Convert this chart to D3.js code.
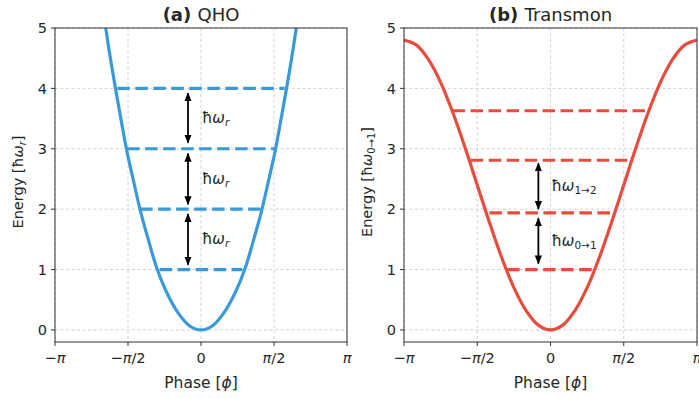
<!DOCTYPE html>
<html>
<head>
<meta charset="utf-8">
<script src="https://cdn.jsdelivr.net/npm/d3@7"></script>
<style>
  body { margin: 0; background: #fff; }
  text { font-family: "DejaVu Sans", sans-serif; fill: #262626; }
</style>
</head>
<body>
<div class="canvas"></div>
<script>
// --- data ---
const xTicks = [-Math.PI, -Math.PI / 2, 0, Math.PI / 2, Math.PI];
const xTickLabels = [['−', 'π', ''], ['−', 'π', '/2'], ['', '', '0'], ['', 'π', '/2'], ['', 'π', '']];
const yTicks = [0, 1, 2, 3, 4, 5];

// QHO potential (phase, energy)
const qhoPhase  = [-2.05, -1.95, -1.84, -1.72, -1.6, -1.45, -1.3, -1.15, -0.95, -0.75, -0.5, -0.25, 0, 0.25, 0.5, 0.75, 0.95, 1.15, 1.3, 1.45, 1.6, 1.72, 1.84, 1.95, 2.05];
const qhoEnergy = [5.0, 4.5, 4.0, 3.48, 2.98, 2.46, 1.96, 1.54, 1.02, 0.64, 0.29, 0.07, 0, 0.07, 0.29, 0.64, 1.02, 1.54, 1.96, 2.46, 2.98, 3.48, 4.0, 4.5, 5.0];
const qhoLevels = [1, 2, 3, 4];
const qhoHalfWidth = [0.89, 1.31, 1.59, 1.8];
const qhoArrows = [[1.08, 1.92], [2.08, 2.92], [3.1, 3.92]];

// transmon potential (phase, energy)
const trPhase  = d3.range(-12, 13).map(i => i * Math.PI / 12);
const trEnergy = [4.8, 4.72, 4.48, 4.1, 3.6, 3.02, 2.4, 1.78, 1.2, 0.7, 0.32, 0.08, 0, 0.08, 0.32, 0.7, 1.2, 1.78, 2.4, 3.02, 3.6, 4.1, 4.48, 4.72, 4.8];
const trLevels = [1.0, 1.94, 2.81, 3.63];
const trHalfWidth = [0.93, 1.31, 1.71, 2.1];
const trArrows = [[1.1, 1.85], [2.0, 2.76]];

const width = 699, height = 398;
const svg = d3.select('.canvas')
    .append('svg')
    .attr('width', width)
    .attr('height', height);

// arrowhead markers
const defs = svg.append('defs');
defs.append('marker')
    .attr('id', 'head')
    .attr('viewBox', '0 0 10 10')
    .attr('refX', 9).attr('refY', 5)
    .attr('markerWidth', 9).attr('markerHeight', 9)
    .attr('markerUnits', 'userSpaceOnUse')
    .attr('orient', 'auto-start-reverse')
  .append('path')
    .attr('d', 'M0,1 L10,5 L0,9 z')
    .attr('fill', '#000');

const y = d3.scaleLinear().domain([-0.2, 5]).range([342, 28]);

function panel(opt) {
    const x = d3.scaleLinear().domain([-Math.PI, Math.PI]).range([opt.left, opt.right]);
    const g = svg.append('g');

    defs.append('clipPath').attr('id', 'clip-' + opt.id)
      .append('rect')
        .attr('x', opt.left).attr('y', y(5))
        .attr('width', opt.right - opt.left).attr('height', y(-0.2) - y(5));

    // grid
    g.append('g').selectAll('line')
      .data(yTicks).join('line')
        .attr('x1', opt.left).attr('x2', opt.right)
        .attr('y1', d => y(d)).attr('y2', d => y(d))
        .attr('stroke', '#b0b0b0').attr('stroke-width', 0.8)
        .attr('stroke-dasharray', '3,2.5').attr('opacity', 0.7);
    g.append('g').selectAll('line')
      .data(xTicks).join('line')
        .attr('x1', d => x(d)).attr('x2', d => x(d))
        .attr('y1', y(5)).attr('y2', y(-0.2))
        .attr('stroke', '#b0b0b0').attr('stroke-width', 0.8)
        .attr('stroke-dasharray', '3,2.5').attr('opacity', 0.7);

    // potential
    const line = d3.line()
        .x((d, i) => x(opt.phase[i]))
        .y(d => y(d))
        .curve(d3.curveCatmullRom);
    g.append('path')
        .datum(opt.energy)
        .attr('clip-path', `url(#clip-${opt.id})`)
        .attr('fill', 'none')
        .attr('stroke', opt.color)
        .attr('stroke-width', 3.2)
        .attr('d', line);

    // levels
    g.append('g').selectAll('line')
      .data(opt.levels).join('line')
        .attr('x1', (d, i) => x(-opt.half[i]))
        .attr('x2', (d, i) => x(opt.half[i]))
        .attr('y1', d => y(d)).attr('y2', d => y(d))
        .attr('stroke', opt.color)
        .attr('stroke-width', 3.2)
        .attr('stroke-dasharray', '12.5,5.5');

    // arrows + labels
    g.append('g').selectAll('line')
      .data(opt.arrows).join('line')
        .attr('x1', x(opt.arrowX)).attr('x2', x(opt.arrowX))
        .attr('y1', d => y(d[0])).attr('y2', d => y(d[1]))
        .attr('stroke', '#000').attr('stroke-width', 1.8)
        .attr('marker-start', 'url(#head)')
        .attr('marker-end', 'url(#head)');

    const lab = g.append('g').selectAll('text')
      .data(opt.arrows).join('text')
        .attr('x', x(opt.labelX))
        .attr('y', d => y((d[0] + d[1]) / 2) + 5)
        .attr('font-size', 15);
    lab.append('tspan').text('ħ');
    lab.append('tspan').attr('font-style', 'italic').text('ω');
    lab.append('tspan')
        .attr('font-size', 10.5).attr('dy', 3)
        .attr('font-style', (d, i) => opt.sub[i] === 'r' ? 'italic' : 'normal')
        .text((d, i) => opt.sub[i]);

    // spines
    g.append('rect')
        .attr('x', opt.left).attr('y', y(5))
        .attr('width', opt.right - opt.left).attr('height', y(-0.2) - y(5))
        .attr('fill', 'none').attr('stroke', '#333').attr('stroke-width', 1);

    // x ticks
    const xt = g.append('g').selectAll('g')
      .data(xTicks).join('g')
        .attr('transform', d => `translate(${x(d)},${y(-0.2)})`);
    xt.append('line').attr('y2', 4).attr('stroke', '#333');
    const xl = xt.append('text')
        .attr('y', 21).attr('text-anchor', 'middle').attr('font-size', 14.5);
    xl.append('tspan').text((d, i) => xTickLabels[i][0]);
    xl.append('tspan').attr('font-style', 'italic').text((d, i) => xTickLabels[i][1]);
    xl.append('tspan').text((d, i) => xTickLabels[i][2]);

    // y ticks
    const yt = g.append('g').selectAll('g')
      .data(yTicks).join('g')
        .attr('transform', d => `translate(${opt.left},${y(d)})`);
    yt.append('line').attr('x2', -4).attr('stroke', '#333');
    yt.append('text')
        .attr('x', -8).attr('dy', '0.36em')
        .attr('text-anchor', 'end').attr('font-size', 14.5)
        .text(d => d);

    // x label
    const xlab = g.append('text')
        .attr('x', (opt.left + opt.right) / 2).attr('y', 388)
        .attr('text-anchor', 'middle').attr('font-size', 15.5);
    xlab.append('tspan').text('Phase [');
    xlab.append('tspan').attr('font-style', 'italic').text('ϕ');
    xlab.append('tspan').text(']');

    // y label
    const ylab = g.append('text')
        .attr('transform', `translate(${opt.left - 32},${(y(5) + y(-0.2)) / 2 - 3}) rotate(-90)`)
        .attr('text-anchor', 'middle').attr('font-size', 14.5);
    ylab.append('tspan').text('Energy [ħ');
    ylab.append('tspan').attr('font-style', 'italic').text('ω');
    ylab.append('tspan').attr('font-size', 10).attr('dy', 3)
        .attr('font-style', opt.ySub === 'r' ? 'italic' : 'normal').text(opt.ySub);
    ylab.append('tspan').attr('dy', -3).text(']');

    // title
    const t = g.append('text')
        .attr('x', (opt.left + opt.right) / 2).attr('y', 21)
        .attr('text-anchor', 'middle').attr('font-size', 18);
    t.append('tspan').attr('font-weight', 'bold').text(opt.tag + ' ');
    t.append('tspan').text(opt.title);
}

panel({
    id: 'a', left: 55, right: 347, color: '#3a9ad9',
    phase: qhoPhase, energy: qhoEnergy,
    levels: qhoLevels, half: qhoHalfWidth,
    arrows: qhoArrows, arrowX: -0.28, labelX: 0.02,
    sub: ['r', 'r', 'r'], ySub: 'r',
    tag: '(a)', title: 'QHO'
});

panel({
    id: 'b', left: 404, right: 697, color: '#e74c3c',
    phase: trPhase, energy: trEnergy,
    levels: trLevels, half: trHalfWidth,
    arrows: trArrows, arrowX: -0.26, labelX: 0.02,
    sub: ['0→1', '1→2'], ySub: '0→1',
    tag: '(b)', title: 'Transmon'
});
</script>
</body>
</html>
